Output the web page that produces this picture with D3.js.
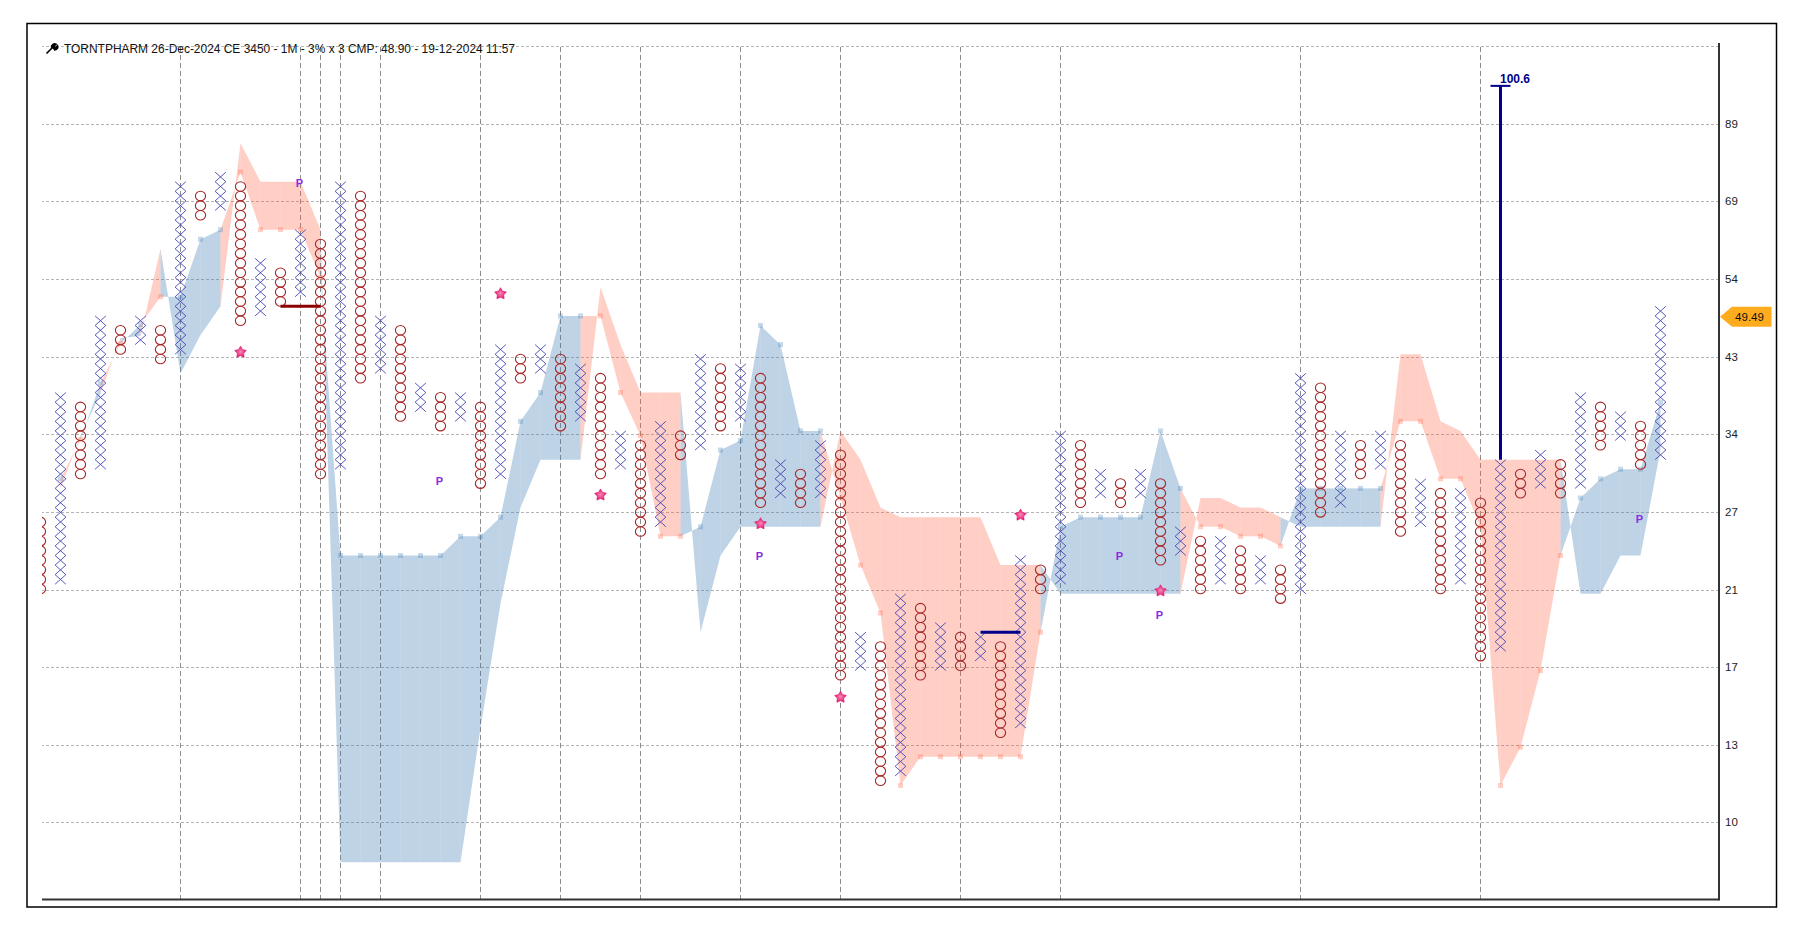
<!DOCTYPE html>
<html>
<head>
<meta charset="utf-8">
<title>TORNTPHARM point and figure</title>
<script src="https://cdn.jsdelivr.net/npm/d3@7"></script>
<style>
  html, body { margin: 0; padding: 0; background: #fff; }
  svg { display: block; }
</style>
</head>
<body>
<div id="chart"></div>
<script>
// Values are in box rows of the 3% point and figure grid, row 0 = lowest O on the chart.
// Columns alternate: even index = O column, odd index = X column.
const colLow = [20,21,32,33,45,46,44,45,59,60,48,49,50,51,32,33,42,43,38,39,37,38,31,32,42,43,37,38,32,33,26,27,34,35,37,38,29,30,29,30,11,12,0,1,11,12,12,13,5,6,20,21,29,30,29,30,23,24,20,21,20,21,19,20,28,29,32,33,26,27,20,21,13,14,30,31,30,31,35,36,33,34];
const colHigh = [27,40,39,48,47,48,47,62,61,63,62,54,53,57,56,62,61,48,47,41,40,40,39,45,44,45,44,43,42,36,35,37,36,44,43,43,42,33,32,35,34,15,14,19,18,16,15,15,14,23,22,36,35,32,31,32,31,26,25,25,24,23,22,42,41,36,35,36,35,31,30,30,29,33,32,34,33,40,39,38,37,49];

// Cloud spans, one value per column starting at column 1
const spanA = [31.5,35.6,41.5,45.6,47.6,50.5,50.5,56.5,57.5,63.5,57.5,57.5,57.5,52.5,23.5,23.5,23.5,23.5,23.5,23.5,25.5,25.5,27.5,37.5,40.5,48.5,48.5,48.5,40.5,36,25.5,25.5,26.5,34.5,35.5,47.5,45.5,36.5,36.5,29.5,22.5,17.5,-0.5,2.5,2.5,2.5,2.5,2.5,2.5,15.5,26.5,27.5,27.5,27.5,27.5,36.5,30.5,26.5,26.5,25.5,25.5,24.5,30.5,30.5,30.5,30.5,30.5,37.5,37.5,31.5,31.5,26.5,-0.5,3.5,11.5,23.5,29.5,31.5,32.5,32.5,39.5];
const spanB = [30.5,36,40.4,46.2,46.4,55.5,42.5,46.5,49.5,66.5,62.5,62.5,62.5,57.5,-8.5,-8.5,-8.5,-8.5,-8.5,-8.5,-8.5,5.5,18.5,28.5,33.5,33.5,33.5,51.5,45.5,40.5,40.5,40.5,15.5,23.5,26.5,26.5,26.5,26.5,26.5,36.5,33.5,28.5,27.5,27.5,27.5,27.5,27.5,22.5,22.5,22.5,19.5,19.5,19.5,19.5,19.5,19.5,19.5,29.5,29.5,28.5,28.5,27.5,26.5,26.5,26.5,26.5,26.5,44.5,44.5,37.5,36.5,33.5,33.5,33.5,33.5,33.5,19.5,19.5,23.5,23.5,34.5];

// Axis
const yTickRows = [-4.34,3.69,11.83,19.87,28,36.1,44.18,52.3,60.45,68.5,76.6];
const yTickLabels = ["10","13","17","21","27","34","43","54","69","89",""];
const xGridCols = [7,13,14,15,17,22,26,30,35,40,46,51,63,72];

// Annotations
const starCols = [10,23,28,36,40,49,56];
const starRows = [44.7,50.8,29.8,26.8,8.7,27.7,19.8];
const pCols = [13,20,36,54,56,80];
const pRows = [62.4,31.3,23.4,23.4,17.3,27.3];
const supportLine = { from: 12, to: 14, row: 49.5 };
const resistLine = { from: 47, to: 49, row: 15.5 };
const targetCol = 73, targetFrom = 33.5, targetRow = 72.5, targetLabel = "100.6";
const lastPrice = "49.49", lastPriceRow = 48.4;
const title = "TORNTPHARM 26-Dec-2024 CE 3450 - 1M - 3% x 3 CMP: 48.90 - 19-12-2024 11:57";

// ── Layout ──────────────────────────────────────────────────────────────
const W = 1808, H = 935;
const plot = { left: 42, right: 1719, top: 43, bottom: 899.5 };

const svg = d3.select("#chart").append("svg")
    .attr("width", W).attr("height", H)
    .style("font-family", "'Liberation Sans', Arial, sans-serif");

const defs = svg.append("defs");
defs.append("clipPath").attr("id", "plot-clip")
    .append("rect")
    .attr("x", plot.left).attr("y", plot.top)
    .attr("width", plot.right - plot.left).attr("height", plot.bottom - plot.top);

const starGrad = defs.append("radialGradient").attr("id", "star-fill");
starGrad.append("stop").attr("offset", "0%").attr("stop-color", "#f98ab5");
starGrad.append("stop").attr("offset", "100%").attr("stop-color", "#e3156f");

// ── Scales ──────────────────────────────────────────────────────────────
const x = d3.scaleLinear().domain([0, 81]).range([40.5, 1660.5]);
const y = d3.scaleLinear().domain([0, 62]).range([780.7, 186.5]);
const rowH = Math.abs(y(1) - y(0));

// outer frame
svg.append("rect")
    .attr("x", 27).attr("y", 23.5).attr("width", 1749.5).attr("height", 883.5)
    .attr("fill", "none").attr("stroke", "#000").attr("stroke-width", 1.5);

// ── Grid ────────────────────────────────────────────────────────────────
const gridH = svg.append("g")
    .attr("transform", `translate(${plot.right},0)`)
    .call(d3.axisLeft(y).offset(0).tickValues(yTickRows).tickSize(plot.right - plot.left).tickFormat(""));
gridH.select(".domain").remove();
gridH.selectAll("line")
    .attr("stroke", "#b4b4b4").attr("stroke-dasharray", "3,2")
    .attr("shape-rendering", "crispEdges");

const gridV = svg.append("g")
    .attr("transform", `translate(0,${plot.bottom})`)
    .call(d3.axisTop(x).offset(0).tickValues(xGridCols).tickSize(plot.bottom - 45).tickFormat(""));
gridV.select(".domain").remove();
gridV.selectAll("line")
    .attr("stroke", "#8c8c8c").attr("stroke-dasharray", "5,3")
    .attr("shape-rendering", "crispEdges");

// ── Cloud ───────────────────────────────────────────────────────────────
const BLUE = "rgb(70,130,180)", PINK = "rgb(255,99,71)";
const cloud = svg.append("g").attr("clip-path", "url(#plot-clip)");
const cloudCol = i => i + 1;
const segment = d3.area()
    .x(d => x(cloudCol(d)))
    .y0(d => y(spanB[d]))
    .y1(d => y(spanA[d]));

// each step takes the colour of the column it ends on, so it can cross itself
d3.range(1, spanA.length).forEach(i => {
    const up = spanA[i] >= spanB[i];
    cloud.append("path")
        .attr("d", segment([i - 1, i]))
        .attr("fill", up ? BLUE : PINK)
        .attr("fill-opacity", up ? 0.35 : 0.31);
});

cloud.selectAll("rect.span-pt")
    .data(spanA)
    .join("rect")
    .attr("class", "span-pt")
    .attr("x", (d, i) => x(cloudCol(i)) - 2.5)
    .attr("y", d => y(d) - 2.5)
    .attr("width", 5).attr("height", 5)
    .attr("fill", (d, i) => d >= spanB[i] ? BLUE : PINK)
    .attr("fill-opacity", 0.3);

// ── X and O columns ─────────────────────────────────────────────────────
const marks = svg.append("g").attr("clip-path", "url(#plot-clip)");
colLow.forEach((low, c) => {
    const rows = d3.range(low, colHigh[c] + 1);
    if (c % 2 === 0) {
        marks.append("g").selectAll("ellipse")
            .data(rows)
            .join("ellipse")
            .attr("cx", x(c))
            .attr("cy", d => y(d))
            .attr("rx", 5.1).attr("ry", rowH / 2)
            .attr("fill", "none")
            .attr("stroke", "#a52828").attr("stroke-width", 1.1);
    } else {
        marks.append("g").selectAll("path")
            .data(rows)
            .join("path")
            .attr("d", d => {
                const cx = x(c), cy = y(d), hw = 5.4, hh = rowH / 2;
                return `M${cx - hw},${cy - hh}L${cx + hw},${cy + hh}M${cx + hw},${cy - hh}L${cx - hw},${cy + hh}`;
            })
            .attr("fill", "none")
            .attr("stroke", "#4545b4").attr("stroke-width", 0.9);
    }
});

// ── Horizontal bars and target ──────────────────────────────────────────
svg.append("line")
    .attr("x1", x(supportLine.from)).attr("x2", x(supportLine.to))
    .attr("y1", y(supportLine.row)).attr("y2", y(supportLine.row))
    .attr("stroke", "#8b0000").attr("stroke-width", 3);
svg.append("line")
    .attr("x1", x(resistLine.from)).attr("x2", x(resistLine.to))
    .attr("y1", y(resistLine.row)).attr("y2", y(resistLine.row))
    .attr("stroke", "#00008b").attr("stroke-width", 3);

svg.append("line")
    .attr("x1", x(targetCol)).attr("x2", x(targetCol))
    .attr("y1", y(targetFrom)).attr("y2", y(targetRow))
    .attr("stroke", "#00008b").attr("stroke-width", 3);
svg.append("line")
    .attr("x1", x(targetCol - 0.5)).attr("x2", x(targetCol + 0.5))
    .attr("y1", y(targetRow)).attr("y2", y(targetRow))
    .attr("stroke", "#00008b").attr("stroke-width", 2);
svg.append("text")
    .attr("x", x(targetCol) - 0.5).attr("y", y(targetRow) - 3)
    .style("font-size", "12px").style("font-weight", "700")
    .style("fill", "#00008b")
    .text(targetLabel);

// ── Stars and P markers ─────────────────────────────────────────────────
// fatter than d3.symbolStar, the inner points sit at 0.55 of the radius
const fatStar = {
    draw(context, size) {
        const r = Math.sqrt(size);
        d3.range(10).forEach(i => {
            const a = -Math.PI / 2 + i * Math.PI / 5;
            const rad = i % 2 ? r * 0.55 : r;
            if (i === 0) context.moveTo(rad * Math.cos(a), rad * Math.sin(a));
            else context.lineTo(rad * Math.cos(a), rad * Math.sin(a));
        });
        context.closePath();
    }
};
svg.selectAll("path.star")
    .data(starCols)
    .join("path")
    .attr("class", "star")
    .attr("transform", (d, i) => `translate(${x(d)},${y(starRows[i])})`)
    .attr("d", d3.symbol(fatStar, 38))
    .attr("fill", "url(#star-fill)").attr("stroke", "#e3156f").attr("stroke-width", 0.6);

svg.selectAll("text.p-mark")
    .data(pCols)
    .join("text")
    .attr("class", "p-mark")
    .attr("x", d => x(d) - 1)
    .attr("y", (d, i) => y(pRows[i]))
    .attr("text-anchor", "middle")
    .attr("dominant-baseline", "central")
    .style("font-size", "11px").style("font-weight", "700")
    .style("fill", "#8a2be2")
    .text("P");

// ── Axis ────────────────────────────────────────────────────────────────
const yAxis = svg.append("g")
    .attr("transform", `translate(${plot.right},0)`)
    .call(d3.axisRight(y).offset(0).tickValues(yTickRows).tickSize(0).tickPadding(6)
        .tickFormat((d, i) => yTickLabels[i]));
yAxis.select(".domain").remove();
yAxis.selectAll("text").style("font-size", "11.5px").style("fill", "#222")
    .style("font-family", "'Liberation Sans', Arial, sans-serif").attr("dy", "0.3em");

svg.append("line")
    .attr("x1", plot.right).attr("x2", plot.right)
    .attr("y1", plot.top).attr("y2", plot.bottom + 1)
    .attr("stroke", "#333").attr("stroke-width", 2);
svg.append("line")
    .attr("x1", plot.left).attr("x2", plot.right)
    .attr("y1", plot.bottom).attr("y2", plot.bottom)
    .attr("stroke", "#333").attr("stroke-width", 2);

// last price tag
const tagY = y(lastPriceRow);
svg.append("path")
    .attr("d", `M1720,${tagY}L1732,${tagY - 10}L1771.5,${tagY - 10}L1771.5,${tagY + 10}L1732,${tagY + 10}Z`)
    .attr("fill", "#ffab1e");
svg.append("text")
    .attr("x", 1749.5).attr("y", tagY)
    .attr("text-anchor", "middle").attr("dominant-baseline", "central")
    .style("font-size", "11.5px").style("fill", "#111")
    .text(lastPrice);

// ── Title with wrench icon ──────────────────────────────────────────────
svg.append("path")
    .attr("d", "M46.5,53.5L53,47M51.5,47.5a3.2,3.2 0 0 1 4.5,-3.3l-2,2l1.5,1.5l2,-2a3.2,3.2 0 0 1 -3.5,4.3")
    .attr("fill", "#000").attr("stroke", "#000").attr("stroke-width", 1.6);
svg.append("text")
    .attr("x", 64).attr("y", 53)
    .style("font-size", "12px").style("fill", "#111")
    .attr("textLength", 451).attr("lengthAdjust", "spacingAndGlyphs")
    .text(title);
</script>
</body>
</html>
